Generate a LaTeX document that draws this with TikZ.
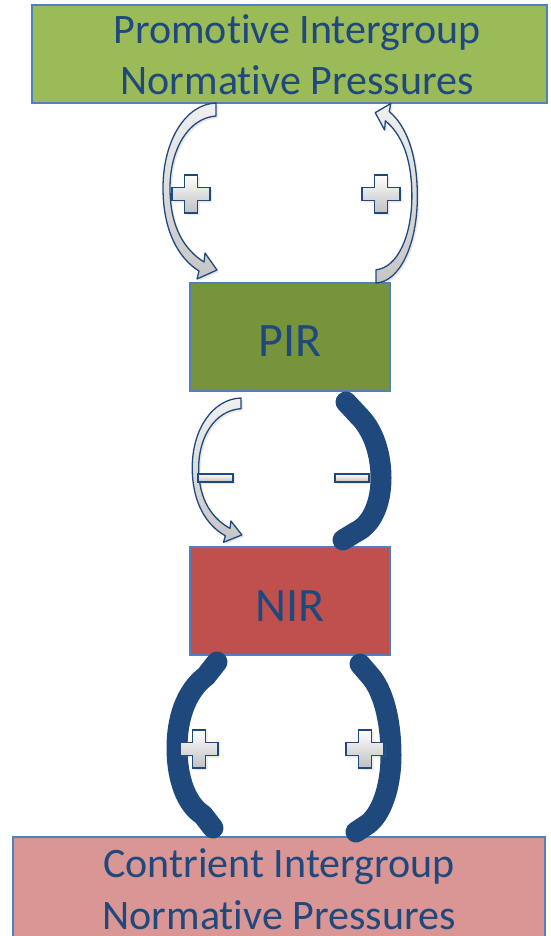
\documentclass[tikz,border=0pt]{standalone}
\usepackage{fontspec}
\setmainfont{Carlito}[Ligatures=NoCommon]
\usetikzlibrary{shadows}
\definecolor{inkblue}{HTML}{1F497D}
\definecolor{edgeblue}{HTML}{4F81BD}
\definecolor{promgreen}{HTML}{9BBB59}
\definecolor{pirgreen}{HTML}{77933C}
\definecolor{nirred}{HTML}{C0504D}
\definecolor{contpink}{HTML}{D99694}
\tikzset{
  panel/.style={draw=edgeblue, line width=1.4pt, inner sep=0pt, fill=#1},
  label/.style={text=inkblue, font=\fontsize{42}{51.5}\selectfont, align=center, anchor=base, inner sep=0pt},
  biglabel/.style={label, font=\fontsize{48}{56}\selectfont},
  grayarrow/.style={draw=inkblue, line width=1.3pt, line join=round, top color=gray!12, bottom color=gray!45,
    drop shadow={opacity=0.18, shadow xshift=2pt, shadow yshift=-2pt}},
  heavyarc/.style={draw=inkblue, line width=21pt, line cap=round, line join=round},
  signstyle/.style={draw=inkblue, line width=1.4pt, top color=white, bottom color=gray!50,
    drop shadow={opacity=0.18, shadow xshift=2pt, shadow yshift=-2pt}},
}
% curved block arrow: band from the start edge at (0,0)-(0,13), bending left, head at the far end
\newcommand\bentarrow[1]{%
  \path[grayarrow,#1] (0,0) .. controls (-30,1) and (-53,37) .. (-53,85)
    .. controls (-53,127) and (-38,155) .. (-17,168)
    -- (-19,176) -- (1,167) -- (-11,150) -- (-12,159)
    .. controls (-31,147) and (-46,125) .. (-46,85)
    .. controls (-46,47) and (-28,15) .. (0,13) -- cycle;}
% plus sign centred at the given point
\newcommand\plusmark[1]{%
  \path[signstyle,shift={#1}] (-6.5,-19) -- (6.5,-19) -- (6.5,-6.5) -- (19,-6.5) -- (19,6.5)
    -- (6.5,6.5) -- (6.5,19) -- (-6.5,19) -- (-6.5,6.5) -- (-19,6.5) -- (-19,-6.5)
    -- (-6.5,-6.5) -- cycle;}
\begin{document}
\begin{tikzpicture}[x=1pt,y=-1pt]
\useasboundingbox (0,0) rectangle (550,936);

% boxes
\node[panel=promgreen, minimum width=515pt, minimum height=98pt] (prom) at (289.5,54) {};
\node[panel=pirgreen, minimum width=200pt, minimum height=108pt] (pir) at (290,337) {};
\node[panel=nirred, minimum width=200pt, minimum height=108pt] (nir) at (290,601) {};
\node[panel=contpink, minimum width=532pt, minimum height=114pt] (cont) at (279,894) {};

% box labels (anchored at the baseline of their last line)
\node[label] (promtext) at (297,95) {Promotive Intergroup\\Normative Pressures};
\node[biglabel] (pirtext) at (290,356) {PIR};
\node[biglabel] (nirtext) at (290,621) {NIR};
\node[label] (conttext) at (279,929) {Contrient Intergroup\\Normative Pressures};

% promotive pressures <-> PIR
\bentarrow{shift={(216,103)}}
\bentarrow{shift={(376,283)}, xscale=-0.78, yscale=-1.02}
\plusmark{(191,194)}
\plusmark{(381,194)}

% PIR <-> NIR
\bentarrow{shift={(241,398)}, xscale=0.92, yscale=0.82}
\draw[heavyarc] (346,402) -- (359,416) .. controls (374,431) and (381,455) .. (381,478)
  .. controls (381,505) and (371,525) .. (356,532) -- (343,540);
\path[signstyle] (198,474) rectangle (233,482);
\path[signstyle] (335,474) rectangle (369,482);

% NIR <-> contrient pressures
\draw[heavyarc] (217,662) -- (206,676) .. controls (185,692) and (177,720) .. (177,748)
  .. controls (177,780) and (187,805) .. (203,815) -- (213,828);
\draw[heavyarc] (360,664) -- (372,678) .. controls (385,695) and (391,725) .. (391,755)
  .. controls (391,790) and (380,815) .. (368,824) -- (356,832);
\plusmark{(199,749)}
\plusmark{(365,749)}
\end{tikzpicture}
\end{document}
